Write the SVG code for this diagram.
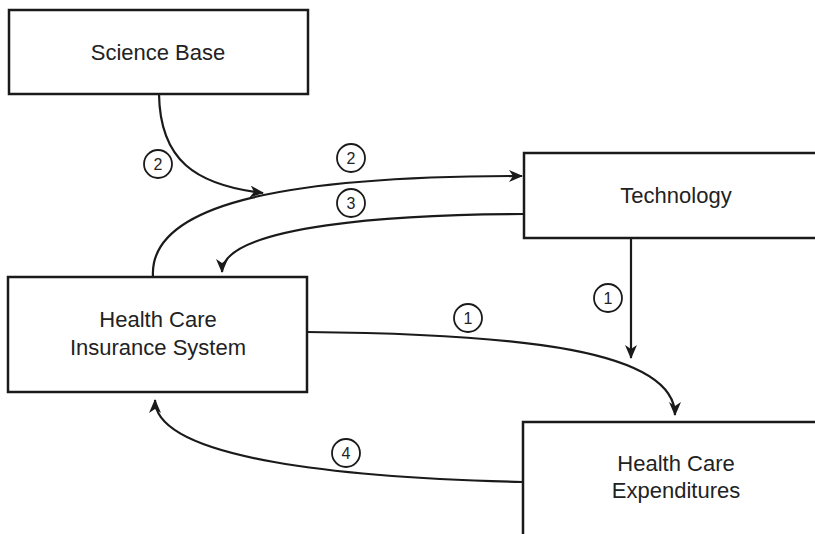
<svg xmlns="http://www.w3.org/2000/svg" width="815" height="534" viewBox="0 0 815 534">
<style>
.box{fill:#fff;stroke:#1a1a1a;stroke-width:2.5}
.lbl{font-family:"Liberation Sans",Arial,sans-serif;font-size:22px;fill:#222;text-anchor:middle}
.edge{fill:none;stroke:#1a1a1a;stroke-width:2.2;marker-end:url(#ah)}
.num circle{fill:#fff;stroke:#1a1a1a;stroke-width:1.8}
.num text{font-family:"Liberation Sans",Arial,sans-serif;font-size:16px;fill:#222;text-anchor:middle}
</style>
<defs>
<marker id="ah" viewBox="0 0 14 12" refX="13" refY="6" markerWidth="14" markerHeight="12" markerUnits="userSpaceOnUse" orient="auto">
<path d="M0,0 L14,6 L0,12 L4,6 z" fill="#1a1a1a"/>
</marker>
</defs>
<rect width="815" height="534" fill="#fff"/>
<g id="science-base">
<rect class="box" x="9" y="10" width="299" height="84"/>
<text class="lbl" x="158" y="60">Science Base</text>
</g>
<g id="technology">
<rect class="box" x="524" y="153" width="300" height="85"/>
<text class="lbl" x="676" y="203">Technology</text>
</g>
<g id="insurance">
<rect class="box" x="8" y="277" width="299" height="115"/>
<text class="lbl" x="158" y="327">Health Care</text>
<text class="lbl" x="158" y="355">Insurance System</text>
</g>
<g id="expenditures">
<rect class="box" x="523" y="422" width="300" height="130"/>
<text class="lbl" x="676" y="471">Health Care</text>
<text class="lbl" x="676" y="498">Expenditures</text>
</g>
<g id="connectors">
<path class="edge" d="M159,94 C160,160 195,185 263,193"/>
<path class="edge" d="M153,277 C148,200 300,176 522,176"/>
<path class="edge" d="M524,214 C400,214 222,225 222,272"/>
<path class="edge" d="M631,238 L631,358"/>
<path class="edge" d="M307,332 C520,334 675,350 675,415"/>
<path class="edge" d="M523,482 C350,478 155,460 155,400"/>
</g>
<g id="labels">
<g class="num"><circle cx="158" cy="164" r="14"/><text x="158" y="170">2</text></g>
<g class="num"><circle cx="351" cy="158" r="14"/><text x="351" y="164">2</text></g>
<g class="num"><circle cx="351" cy="203" r="14"/><text x="351" y="209">3</text></g>
<g class="num"><circle cx="608" cy="298" r="14"/><text x="608" y="304">1</text></g>
<g class="num"><circle cx="468" cy="318" r="14"/><text x="468" y="324">1</text></g>
<g class="num"><circle cx="346" cy="453" r="14"/><text x="346" y="459">4</text></g>
</g>
</svg>
